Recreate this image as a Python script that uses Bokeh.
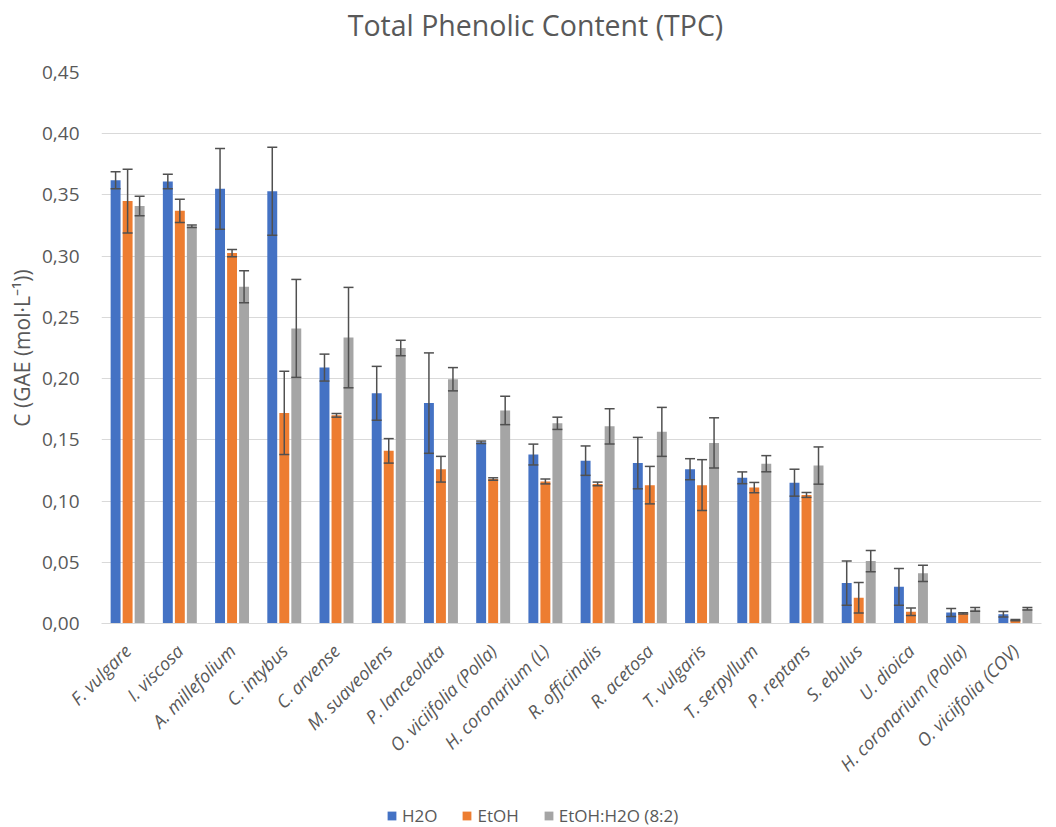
import math
from bokeh.plotting import figure
from bokeh.layouts import column
from bokeh.models import (ColumnDataSource, FactorRange, Range1d, Whisker, TeeHead,
                          Legend, LegendItem, FixedTicker, Label)
from bokeh.transform import dodge
from bokeh.embed import file_html
from bokeh.resources import INLINE

species = ["F. vulgare", "I. viscosa", "A. millefolium", "C. intybus", "C. arvense",
           "M. suaveolens", "P. lanceolata", "O. viciifolia (Polla)", "H. coronarium (L)",
           "R. officinalis", "R. acetosa", "T. vulgaris", "T. serpyllum", "P. reptans",
           "S. ebulus", "U. dioica", "H. coronarium (Polla)", "O. viciifolia (COV)"]

h2o = [0.362, 0.361, 0.355, 0.353, 0.209, 0.188, 0.180, 0.148, 0.138, 0.133, 0.131,
       0.126, 0.119, 0.115, 0.033, 0.030, 0.009, 0.0075]
h2o_err = [0.007, 0.006, 0.033, 0.036, 0.011, 0.022, 0.041, 0.001, 0.0085, 0.012, 0.021,
           0.0086, 0.0048, 0.011, 0.018, 0.015, 0.0033, 0.0022]
etoh = [0.345, 0.337, 0.3025, 0.172, 0.170, 0.141, 0.126, 0.118, 0.116, 0.114, 0.113,
        0.113, 0.111, 0.105, 0.021, 0.0096, 0.0082, 0.0027]
etoh_err = [0.026, 0.0095, 0.003, 0.034, 0.0015, 0.010, 0.0105, 0.001, 0.002, 0.0015,
            0.0153, 0.0208, 0.0042, 0.002, 0.0124, 0.003, 0.0005, 0.0005]
mix = [0.341, 0.3245, 0.275, 0.241, 0.2335, 0.225, 0.1995, 0.174, 0.1635, 0.161, 0.1565,
       0.1475, 0.1305, 0.129, 0.051, 0.041, 0.0115, 0.012]
mix_err = [0.008, 0.001, 0.013, 0.040, 0.041, 0.0063, 0.0095, 0.0116, 0.005, 0.0144,
           0.020, 0.0205, 0.0066, 0.0152, 0.0087, 0.0066, 0.0015, 0.001]

title_text = "Total Phenolic Content (TPC)"
y_label = "C (GAE (mol·L⁻¹))"
series_names = ["H2O", "EtOH", "EtOH:H2O (8:2)"]
colors = ["#4472C4", "#ED7D31", "#A5A5A5"]
y_ticks = [0.0, 0.05, 0.10, 0.15, 0.20, 0.25, 0.30, 0.35, 0.40, 0.45]
y_tick_labels = ["0,00", "0,05", "0,10", "0,15", "0,20", "0,25", "0,30", "0,35", "0,40", "0,45"]

FONT = "Open Sans"
TXT = "#595959"
ERR = "#505050"

data = dict(cat=species)
for key, vals, errs in (("h2o", h2o, h2o_err), ("etoh", etoh, etoh_err), ("mix", mix, mix_err)):
    data[key] = vals
    data[key + "_lo"] = [v - e for v, e in zip(vals, errs)]
    data[key + "_hi"] = [v + e for v, e in zip(vals, errs)]
src = ColumnDataSource(data)

# ---- title strip (its frame is aligned with the chart frame by the column layout)
tf = figure(width=1056, height=60, x_range=Range1d(0, 940), y_range=Range1d(0, 60),
            output_backend="svg", toolbar_location=None, min_border=0)
tf.axis.visible = False
tf.grid.visible = False
tf.outline_line_color = None
tf.add_layout(Label(x=434, y=36, text=title_text, text_align="center", text_baseline="alphabetic",
                    text_font=FONT, text_font_size="28.5px", text_color=TXT))

# ---- main chart
p = figure(width=1056, height=743, x_range=FactorRange(*species, range_padding=0),
           y_range=Range1d(0, 0.45), output_backend="svg", toolbar_location=None,
           min_border_left=101, min_border_right=15, min_border_top=12, min_border_bottom=180)
p.x_range.factor_padding = 0

p.outline_line_color = None
p.xgrid.grid_line_color = None
p.ygrid.grid_line_color = "#D9D9D9"
p.ygrid.grid_line_width = 1

p.yaxis.ticker = FixedTicker(ticks=y_ticks)
p.yaxis.major_label_overrides = {t: l for t, l in zip(y_ticks, y_tick_labels)}
p.yaxis.axis_line_color = None
p.yaxis.major_tick_line_color = None
p.yaxis.minor_tick_line_color = None
p.yaxis.major_label_text_font = FONT
p.yaxis.major_label_text_font_size = "19px"
p.yaxis.major_label_text_color = TXT
p.yaxis.major_label_standoff = 16
p.yaxis.axis_label = y_label
p.yaxis.axis_label_text_font = FONT
p.yaxis.axis_label_text_font_size = "21px"
p.yaxis.axis_label_text_font_style = "normal"
p.yaxis.axis_label_text_color = TXT
p.yaxis.axis_label_standoff = 3

p.xaxis.axis_line_color = "#D9D9D9"
p.xaxis.major_tick_line_color = None
p.xaxis.minor_tick_line_color = None
p.xaxis.major_label_orientation = math.pi / 4
p.xaxis.major_label_text_font = FONT
p.xaxis.major_label_text_font_size = "18px"
p.xaxis.major_label_text_font_style = "italic"
p.xaxis.major_label_text_color = TXT
p.xaxis.major_label_standoff = 18

offsets = [-0.23, 0.0, 0.23]
keys = ["h2o", "etoh", "mix"]
for key, off, col in zip(keys, offsets, colors):
    p.vbar(x=dodge("cat", off, range=p.x_range), top=key, width=0.19, source=src,
           fill_color=col, line_color=None)
for key, off in zip(keys, offsets):
    w = Whisker(source=src, base=dodge("cat", off, range=p.x_range), level="annotation",
                upper=key + "_hi", lower=key + "_lo", line_color=ERR, line_width=1.5,
                upper_head=TeeHead(size=10, line_color=ERR, line_width=1.5),
                lower_head=TeeHead(size=10, line_color=ERR, line_width=1.5))
    p.add_layout(w)

# ---- legend strip
lg = figure(width=1056, height=24, x_range=Range1d(0, 1), y_range=Range1d(0, 1),
            output_backend="svg", toolbar_location=None, min_border=0)
lg.axis.visible = False
lg.grid.visible = False
lg.outline_line_color = None
leg_renderers = [lg.vbar(x=[-5], top=[-5], width=0.1, fill_color=c, line_color=None) for c in colors]
legend = Legend(items=[LegendItem(label=n, renderers=[r]) for n, r in zip(series_names, leg_renderers)],
                orientation="horizontal", location=(285, 0),
                label_text_font=FONT, label_text_font_size="17px", label_text_color=TXT,
                glyph_width=11, glyph_height=11, spacing=24, label_standoff=5,
                border_line_color=None, background_fill_alpha=0, padding=2, margin=0)
lg.add_layout(legend, "center")

open("out.html", "w").write(file_html(column(tf, p, lg, spacing=0), INLINE))
